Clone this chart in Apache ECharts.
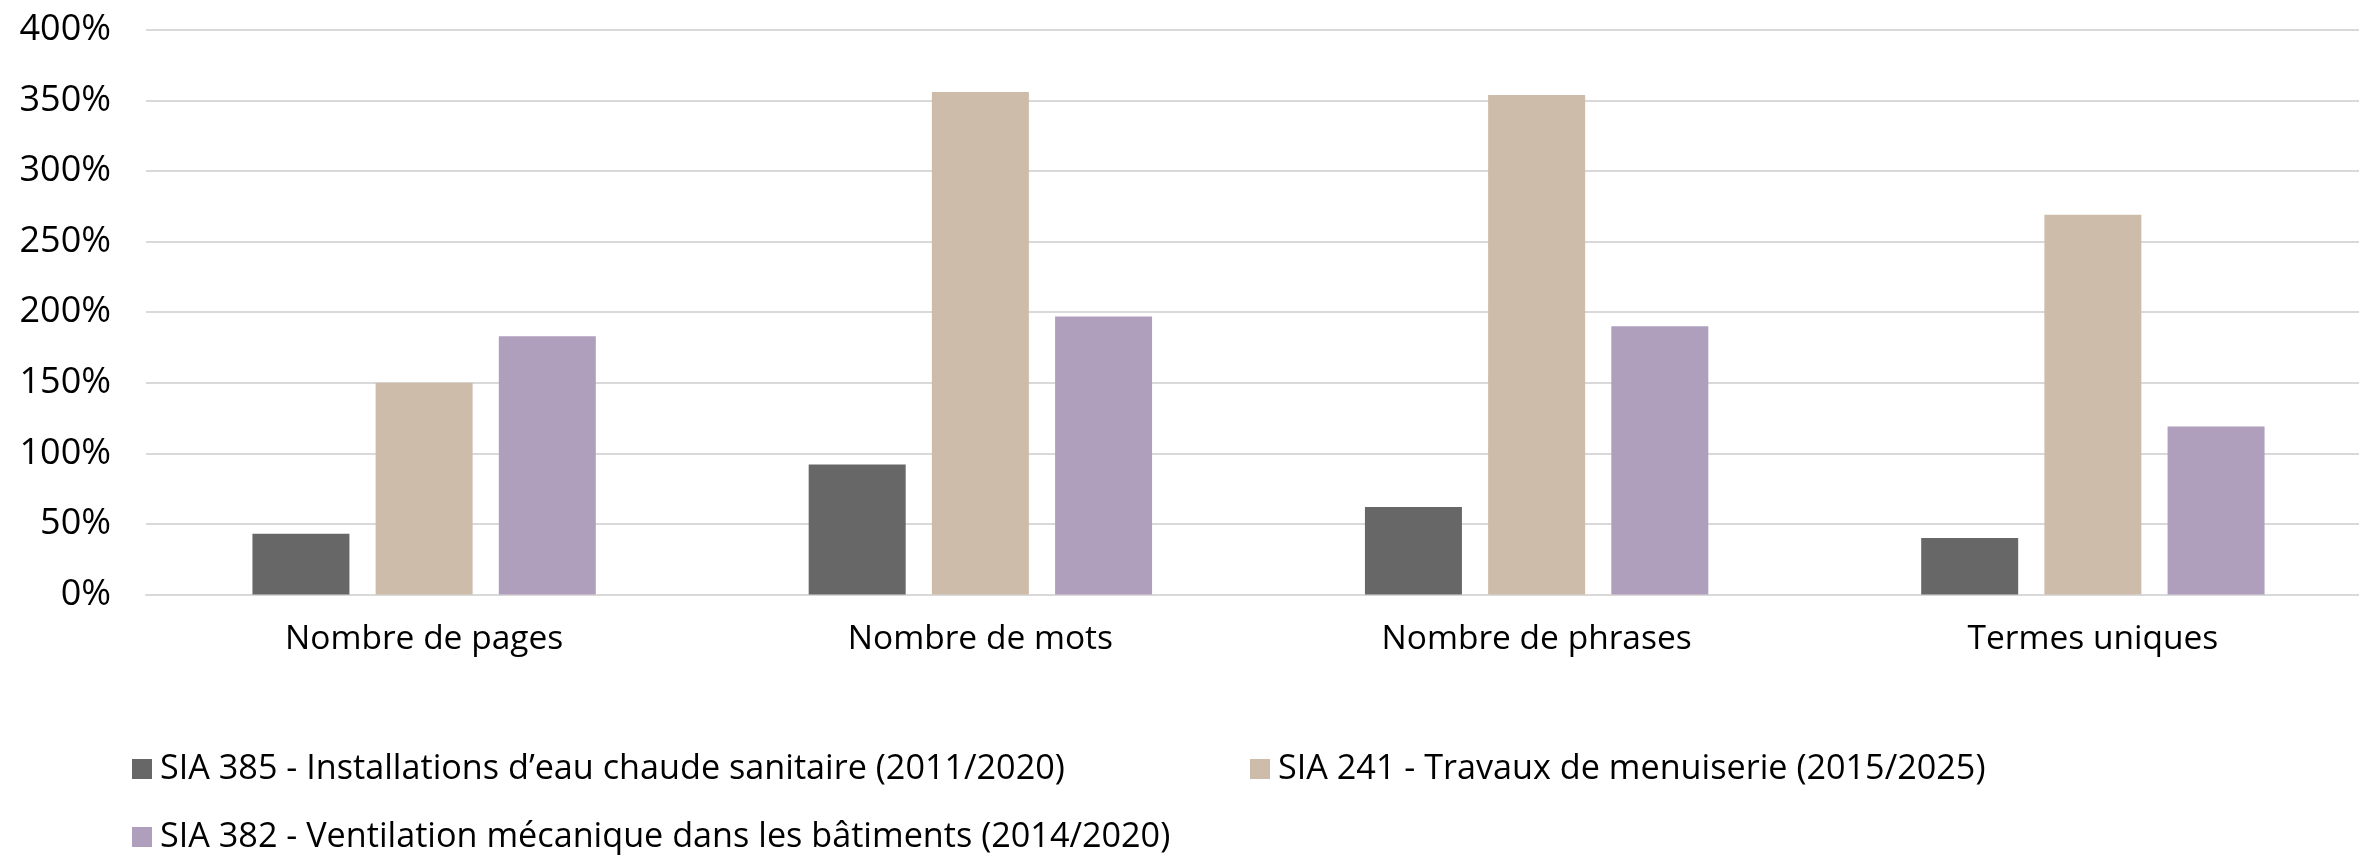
<!DOCTYPE html>
<html>
<head>
<meta charset="utf-8">
<script src="https://cdn.jsdelivr.net/npm/echarts@6/dist/echarts.min.js"></script>
<style>
html,body{margin:0;padding:0;background:#fff;}
#chart{width:2359px;height:858px;}
</style>
</head>
<body>
<div id="chart"></div>
<script>
const categories = ['Nombre de pages', 'Nombre de mots', 'Nombre de phrases', 'Termes uniques'];
const seriesNames = [
  'SIA 385 - Installations d\u2019eau chaude sanitaire (2011/2020)',
  'SIA 241 - Travaux de menuiserie (2015/2025)',
  'SIA 382 - Ventilation mécanique dans les bâtiments (2014/2020)'
];
const sia385 = [43, 92, 62, 40];
const sia241 = [150, 356, 354, 269];
const sia382 = [183, 197, 190, 119];
const colors = ['#676767', '#CDBCAA', '#AF9FBD'];

const FONT = '"Open Sans", "Noto Sans", sans-serif';
const chart = echarts.init(document.getElementById('chart'), null, {renderer: 'canvas'});

function legendFor(i, left, top) {
  return {
    data: [seriesNames[i]],
    left: left, top: top,
    orient: 'horizontal',
    icon: 'rect',
    itemWidth: 20, itemHeight: 20, itemGap: 0,
    padding: 0,
    selectedMode: false,
    textStyle: {fontFamily: FONT, fontSize: 34.2, color: '#000', lineHeight: 30, padding: [0, 0, 0, 3]}
  };
}

chart.setOption({
  animation: false,
  backgroundColor: '#fff',
  color: colors,
  grid: {left: 146, top: 30, width: 2225, height: 564.4, outerBoundsMode: 'none', containLabel: false},
  legend: [
    legendFor(0, 132, 752),
    legendFor(1, 1250, 752),
    legendFor(2, 132, 820)
  ],
  xAxis: {
    type: 'category',
    data: categories,
    axisTick: {show: false},
    axisLine: {show: true, lineStyle: {color: '#D9D9D9', width: 2}},
    axisLabel: {fontFamily: FONT, fontSize: 33.5, color: '#000', margin: 28}
  },
  yAxis: {
    type: 'value',
    min: 0, max: 400, interval: 50,
    axisLine: {show: false},
    axisTick: {show: false},
    splitLine: {lineStyle: {color: '#D9D9D9', width: 2}},
    axisLabel: {fontFamily: FONT, fontSize: 36, color: '#000', margin: 35, formatter: '{value}%'}
  },
  series: [
    {name: seriesNames[0], type: 'bar', data: sia385, barWidth: 97, barGap: '27%'},
    {name: seriesNames[1], type: 'bar', data: sia241, barWidth: 97, barGap: '27%'},
    {name: seriesNames[2], type: 'bar', data: sia382, barWidth: 97, barGap: '27%'}
  ]
});
</script>
</body>
</html>
